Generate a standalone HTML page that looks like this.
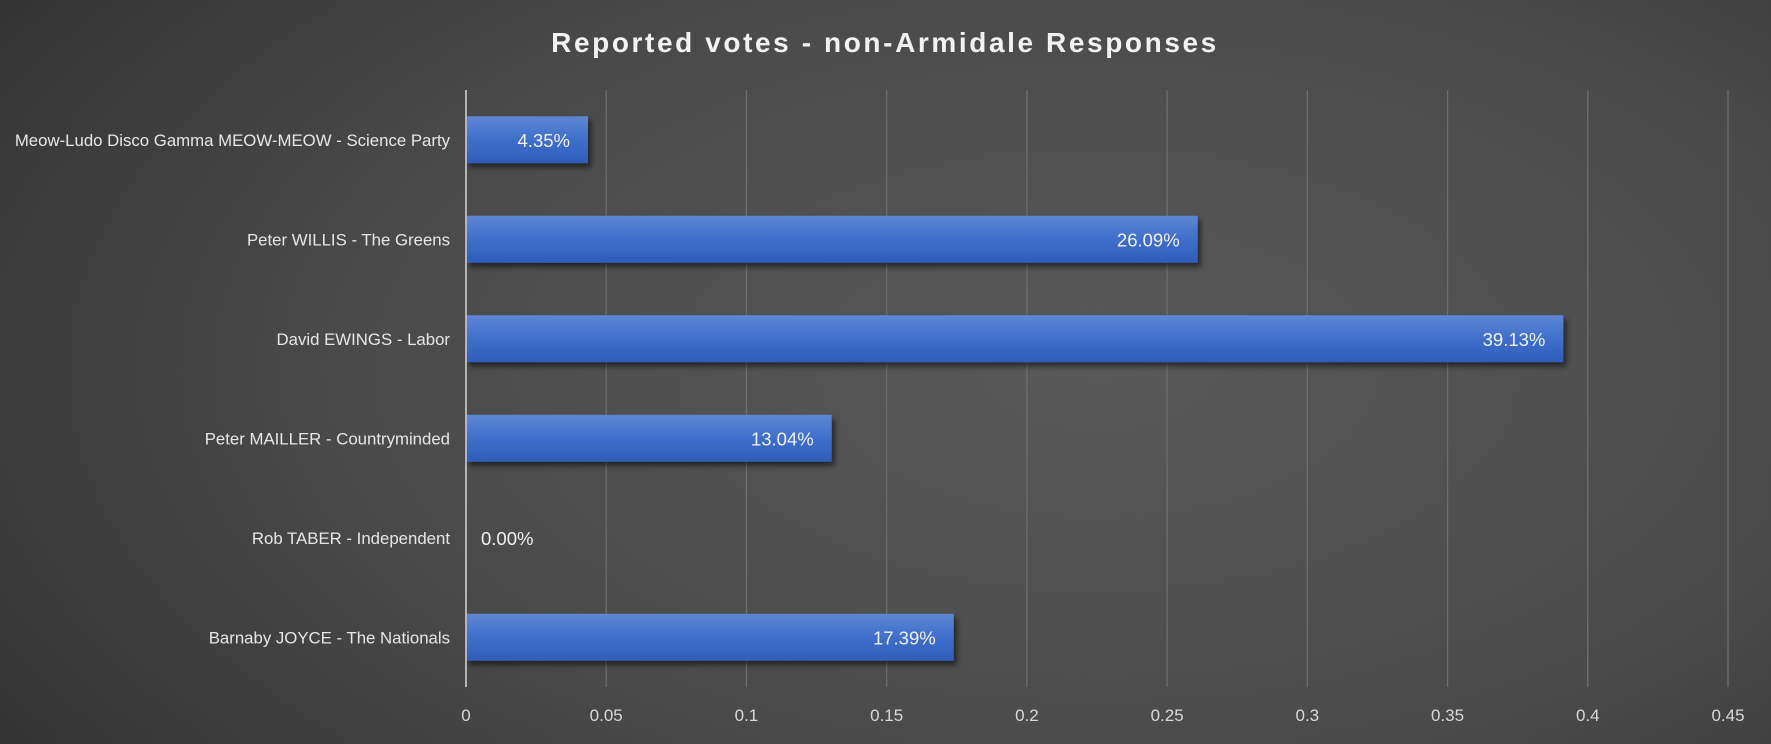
<!DOCTYPE html>
<html><head><meta charset="utf-8"><style>
html,body{margin:0;padding:0;}
body{width:1771px;height:739px;overflow:hidden;background:radial-gradient(ellipse 95% 120% at 62% 50%,#595959 0%,#4a4a4a 45%,#2e2e2e 85%,#222 100%);font-family:"Liberation Sans",sans-serif;}
svg text{font-family:"Liberation Sans",sans-serif;}
</style></head><body>
<svg id="chart" width="1771" height="739" xmlns="http://www.w3.org/2000/svg">
<defs>
<linearGradient id="bg" x1="0" y1="0" x2="0" y2="1">
<stop offset="0" stop-color="#5f86d3"/><stop offset="0.5" stop-color="#3f6fcb"/><stop offset="1" stop-color="#2f5cba"/></linearGradient>
<filter id="sh" x="-5%" y="-20%" width="115%" height="160%"><feDropShadow dx="3" dy="4" stdDeviation="3" flood-color="#000" flood-opacity="0.55"/></filter>
</defs>
<text x="885" y="52" text-anchor="middle" font-size="28" font-weight="bold" fill="#f2f2f2" letter-spacing="2.6">Reported votes - non-Armidale Responses</text>
<g id="grid"></g><g id="bars"></g><g id="labels"></g>
</svg>
<script>
const categories=["Meow-Ludo Disco Gamma MEOW-MEOW - Science Party","Peter WILLIS - The Greens","David EWINGS - Labor","Peter MAILLER - Countryminded","Rob TABER - Independent","Barnaby JOYCE - The Nationals"];
const values=[0.0435,0.2609,0.3913,0.1304,0,0.1739];
const valueLabels=["4.35%","26.09%","39.13%","13.04%","0.00%","17.39%"];
const ticks=[0,0.05,0.1,0.15,0.2,0.25,0.3,0.35,0.4,0.45];
const tickLabels=["0","0.05","0.1","0.15","0.2","0.25","0.3","0.35","0.4","0.45"];
const NS="http://www.w3.org/2000/svg";
const x0=466,x1=1728,yTop=90,yBot=687,xmax=0.45;
const xs=v=>x0+(x1-x0)*v/xmax;
const band=(yBot-yTop)/categories.length;
const yc=i=>yTop+band*(i+0.5);
function mk(t,a,p){const e=document.createElementNS(NS,t);for(const k in a)e.setAttribute(k,a[k]);p.appendChild(e);return e;}
const grid=document.getElementById('grid'),bars=document.getElementById('bars'),labels=document.getElementById('labels');
ticks.forEach((t,i)=>{
 if(i>0){const l=mk('line',{x1:xs(t),x2:xs(t),y1:yTop,y2:yBot,stroke:'#6e6e6e','stroke-width':1.3},grid);
 
 }
 const tx=mk('text',{x:xs(t),y:721,'text-anchor':'middle','font-size':17,fill:'#d9d9d9'},labels);
 tx.textContent=tickLabels[i];
 
 
});
categories.forEach((c,i)=>{
 const h=47,y=yc(i)-h/2,w=xs(values[i])-x0;
 if(w>0){const r=mk('rect',{x:x0,y:y,width:w,height:h,fill:'url(#bg)',filter:'url(#sh)'},bars);
 
 }
 const cl=mk('text',{x:450,y:yc(i)+6,'text-anchor':'end','font-size':16.8,fill:'#e6e6e6'},labels);
 cl.textContent=c;
 
 
 const inside=w>60;
 const vl=mk('text',{x:inside?xs(values[i])-18:x0+15,y:yc(i)+7,'text-anchor':inside?'end':'start','font-size':18.5,fill:'#f0f0f0'},labels);
 vl.textContent=valueLabels[i];
 
 
});
const ax=mk('line',{x1:x0,x2:x0,y1:yTop,y2:yBot,stroke:'#bfbfbf','stroke-width':1.8},labels);


</script>
</body></html>
